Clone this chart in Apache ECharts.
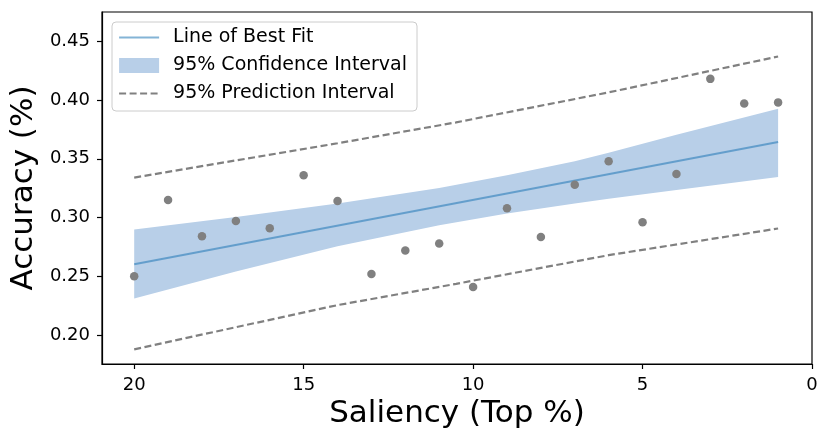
<!DOCTYPE html>
<html>
<head>
<meta charset="utf-8">
<script src="https://cdn.jsdelivr.net/npm/echarts@6/dist/echarts.min.js"></script>
<style>
html,body{margin:0;padding:0;background:#fff;}
#chart{width:830px;height:443px;}
</style>
</head>
<body>
<div id="chart"></div>
<script>
// Observed points
const saliency = [20, 19, 18, 17, 16, 15, 14, 13, 12, 11, 10, 9, 8, 7, 6, 5, 4, 3, 2, 1];
const accuracy = [0.250, 0.315, 0.284, 0.297, 0.291, 0.336, 0.314, 0.252, 0.272, 0.278,
                  0.241, 0.308, 0.2835, 0.328, 0.348, 0.296, 0.337, 0.418, 0.397, 0.398];
// Line of best fit (read at ends)
const fitX = [20, 1];
const fitY = [0.2603, 0.3642];
// 95% confidence band
const ciX = [20, 17, 14, 11, 9, 7, 6, 4, 1];
const ciUpper = [0.2898, 0.3005, 0.3120, 0.3252, 0.3360, 0.3480, 0.3552, 0.3705, 0.3926];
const ciLower = [0.2312, 0.2540, 0.2756, 0.2935, 0.3035, 0.3120, 0.3160, 0.3235, 0.3345];
// 95% prediction interval
const piX = [20, 14, 10.5, 6, 1];
const piUpper = [0.3340, 0.3632, 0.3810, 0.4065, 0.4370];
const piLower = [0.1879, 0.2255, 0.2436, 0.2680, 0.2907];
// Ticks
const xTicks = [0, 5, 10, 15, 20];
const yTicks = [0.20, 0.25, 0.30, 0.35, 0.40, 0.45];

const FONT = 'DejaVu Sans';
const chart = echarts.init(document.getElementById('chart'), null, {renderer: 'canvas'});

const ciData = ciX.map((x, i) => [x, ciUpper[i], ciLower[i]]);
const BAND = '#b8cfe8';
const FIT = 'rgba(31,119,180,0.55)';
const GRAY = '#808080';

const option = {
  animation: false,
  backgroundColor: '#fff',
  grid: {left: 102, right: 18, top: 12, bottom: 79, show: true, borderColor: '#000', borderWidth: 1.2, backgroundColor: 'transparent'},
  legend: {
    orient: 'vertical',
    left: 112, top: 22,
    padding: [6, 10, 8, 6],
    itemGap: 9,
    itemWidth: 40, itemHeight: 15,
    backgroundColor: 'rgba(255,255,255,0.85)',
    borderColor: '#cccccc', borderWidth: 1, borderRadius: 4,
    textStyle: {fontFamily: FONT, fontSize: 19, color: '#000', padding: [0, 0, 0, 9]},
    data: [
      {name: 'Line of Best Fit', itemStyle: {opacity: 0}, lineStyle: {color: FIT, width: 2}},
      {name: '95% Confidence Interval', icon: 'rect', itemStyle: {color: BAND}},
      {name: '95% Prediction Interval', itemStyle: {opacity: 0}, lineStyle: {color: GRAY, width: 2.2, type: [7, 3.5]}}
    ]
  },
  xAxis: {
    type: 'value', inverse: true, min: 0, max: 20.95,
    name: 'Saliency (Top %)', nameLocation: 'middle', nameGap: 32,
    nameTextStyle: {fontFamily: FONT, fontSize: 31, color: '#000'},
    axisLine: {show: true, onZero: false, lineStyle: {color: '#000', width: 1.2}},
    axisTick: {show: true, inside: false, length: 5, lineStyle: {color: '#000', width: 1.2}, customValues: xTicks},
    axisLabel: {fontFamily: FONT, fontSize: 18, color: '#000', margin: 12, customValues: xTicks, formatter: v => String(v)},
    splitLine: {show: false}
  },
  yAxis: {
    type: 'value', min: 0.1754, max: 0.4749,
    name: 'Accuracy (%)', nameLocation: 'middle', nameGap: 53,
    nameTextStyle: {fontFamily: FONT, fontSize: 31, color: '#000'},
    axisLine: {show: true, onZero: false, lineStyle: {color: '#000', width: 1.2}},
    axisTick: {show: true, inside: false, length: 5, lineStyle: {color: '#000', width: 1.2}, customValues: yTicks},
    axisLabel: {fontFamily: FONT, fontSize: 18, color: '#000', margin: 12, customValues: yTicks, formatter: v => v.toFixed(2)},
    splitLine: {show: false}
  },
  series: [
    {
      name: '95% Confidence Interval',
      type: 'custom',
      z: 1,
      clip: true,
      itemStyle: {color: BAND},
      encode: {x: 0, y: [1, 2]},
      data: ciData,
      renderItem: function (params, api) {
        if (params.dataIndex !== 0) return null;
        const pts = [];
        for (let i = 0; i < ciX.length; i++) pts.push(api.coord([ciX[i], ciUpper[i]]));
        for (let i = ciX.length - 1; i >= 0; i--) pts.push(api.coord([ciX[i], ciLower[i]]));
        return {type: 'polygon', shape: {points: pts, smooth: 0}, style: {fill: BAND}};
      }
    },
    {
      name: '95% Prediction Interval',
      type: 'line', z: 2, symbol: 'none', smooth: false,
      lineStyle: {color: GRAY, width: 2.2, type: [7, 3.5]},
      itemStyle: {color: GRAY},
      data: piX.map((x, i) => [x, piUpper[i]])
    },
    {
      name: '95% Prediction Interval',
      type: 'line', z: 2, symbol: 'none', smooth: false,
      lineStyle: {color: GRAY, width: 2.2, type: [7, 3.5]},
      itemStyle: {color: GRAY},
      data: piX.map((x, i) => [x, piLower[i]])
    },
    {
      name: 'Line of Best Fit',
      type: 'line', z: 3, symbol: 'none',
      lineStyle: {color: FIT, width: 2},
      itemStyle: {color: FIT},
      data: fitX.map((x, i) => [x, fitY[i]])
    },
    {
      name: 'Observed',
      type: 'scatter', z: 4,
      symbolSize: 8.5,
      itemStyle: {color: GRAY, opacity: 1},
      data: saliency.map((x, i) => [x, accuracy[i]])
    }
  ]
};
chart.setOption(option);
</script>
</body>
</html>
